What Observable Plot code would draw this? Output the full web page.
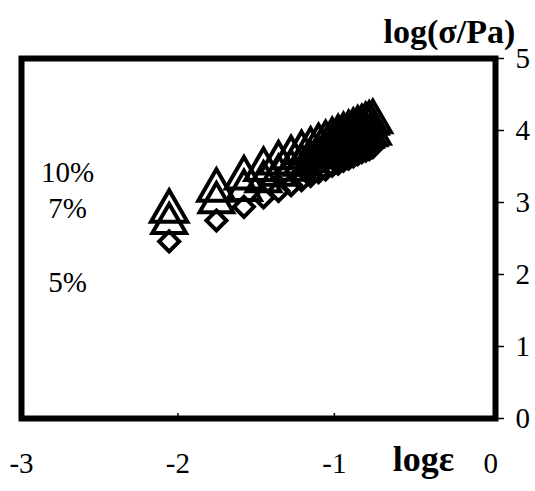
<!DOCTYPE html>
<html>
<head>
<meta charset="utf-8">
<script src="https://cdn.jsdelivr.net/npm/d3@7"></script>
<script src="https://cdn.jsdelivr.net/npm/@observablehq/plot@0.6"></script>
<style>
  html, body { margin: 0; padding: 0; background: #fff; }
</style>
</head>
<body>
<div id="chart"></div>
<script>
// log(strain) values (x)
const logStrain = [-2.056,-1.754,-1.578,-1.453,-1.357,-1.277,-1.210,-1.152,-1.101,-1.056,-1.014,-0.976,-0.942,-0.909,-0.879,-0.851,-0.825,-0.800,-0.777,-0.754];
// log(stress/Pa) for each concentration
const stress10 = [2.88,3.17,3.34,3.46,3.55,3.62,3.69,3.74,3.79,3.83,3.87,3.91,3.94,3.97,4.00,4.03,4.05,4.08,4.10,4.12];
const stress7  = [2.71,3.00,3.17,3.29,3.38,3.45,3.52,3.57,3.62,3.66,3.70,3.74,3.77,3.80,3.83,3.86,3.88,3.91,3.93,3.95];
const stress5  = [2.46,2.75,2.94,3.07,3.16,3.24,3.31,3.37,3.42,3.46,3.51,3.54,3.58,3.61,3.64,3.67,3.70,3.72,3.74,3.77];
// Labels
const concLabels = ["10%", "7%", "5%"];
const concLabelX = [-2.705, -2.705, -2.705];
const concLabelY = [3.42, 2.91, 1.88];
const xTicks = [-3, -2, -1, 0];
const yTicks = [0, 1, 2, 3, 4, 5];
const xTitle = "logε";
const yTitle = "log(σ/Pa)";

const mk = (ys) => logStrain.map((x, i) => ({x, y: ys[i]}));
const d10 = mk(stress10), d7 = mk(stress7), d5 = mk(stress5);
const labels = concLabels.map((t, i) => ({t, x: concLabelX[i], y: concLabelY[i]}));

const font = "Liberation Serif, Times New Roman, serif";

const chart = Plot.plot({
  width: 535,
  height: 491,
  marginLeft: 21,
  marginRight: 40,
  marginTop: 58,
  marginBottom: 73,
  style: {fontFamily: font, background: "#fff"},
  x: {domain: [-3, 0.03]},
  y: {domain: [0, 5]},
  marks: [
    Plot.axisY({anchor: "right", ticks: yTicks, tickSize: 8, tickPadding: 12, tickFormat: d => String(d), fontSize: 29, fontFamily: font, label: null, strokeWidth: 1.5}),
    Plot.axisX({anchor: "bottom", ticks: xTicks, tickSize: 0, tickPadding: 34, tickFormat: d => (d < 0 ? "-" + Math.abs(d) : String(d)), fontSize: 29, fontFamily: font, label: null}),
    Plot.ruleX([-2, -1], {y1: 0, y2: 0.07, stroke: "black", strokeWidth: 1.5}),
    Plot.dot(d10, {x: "x", y: "y", symbol: "triangle", r: 13.5, stroke: "black", strokeWidth: 4, fill: "none"}),
    Plot.dot(d7, {x: "x", y: "y", symbol: "triangle", r: 12.5, stroke: "black", strokeWidth: 4, fill: "none"}),
    Plot.dot(d5, {x: "x", y: "y", symbol: "diamond2", r: 9, stroke: "black", strokeWidth: 4, fill: "none"}),
    Plot.text(labels, {x: "x", y: "y", text: "t", fontSize: 29, fontFamily: font, fill: "black", textAnchor: "middle"}),
    Plot.text([yTitle], {frameAnchor: "top-right", dx: -46, dy: -40, text: d => d, fontSize: 34, fontWeight: "bold", fontFamily: font, textAnchor: "middle"}),
    Plot.text([xTitle], {frameAnchor: "bottom-right", dx: -72, dy: 52, text: d => d, fontSize: 36, fontWeight: "bold", fontFamily: font, textAnchor: "middle"}),
    Plot.frame({stroke: "black", strokeWidth: 6})
  ]
});
document.getElementById("chart").appendChild(chart);
</script>
</body>
</html>
